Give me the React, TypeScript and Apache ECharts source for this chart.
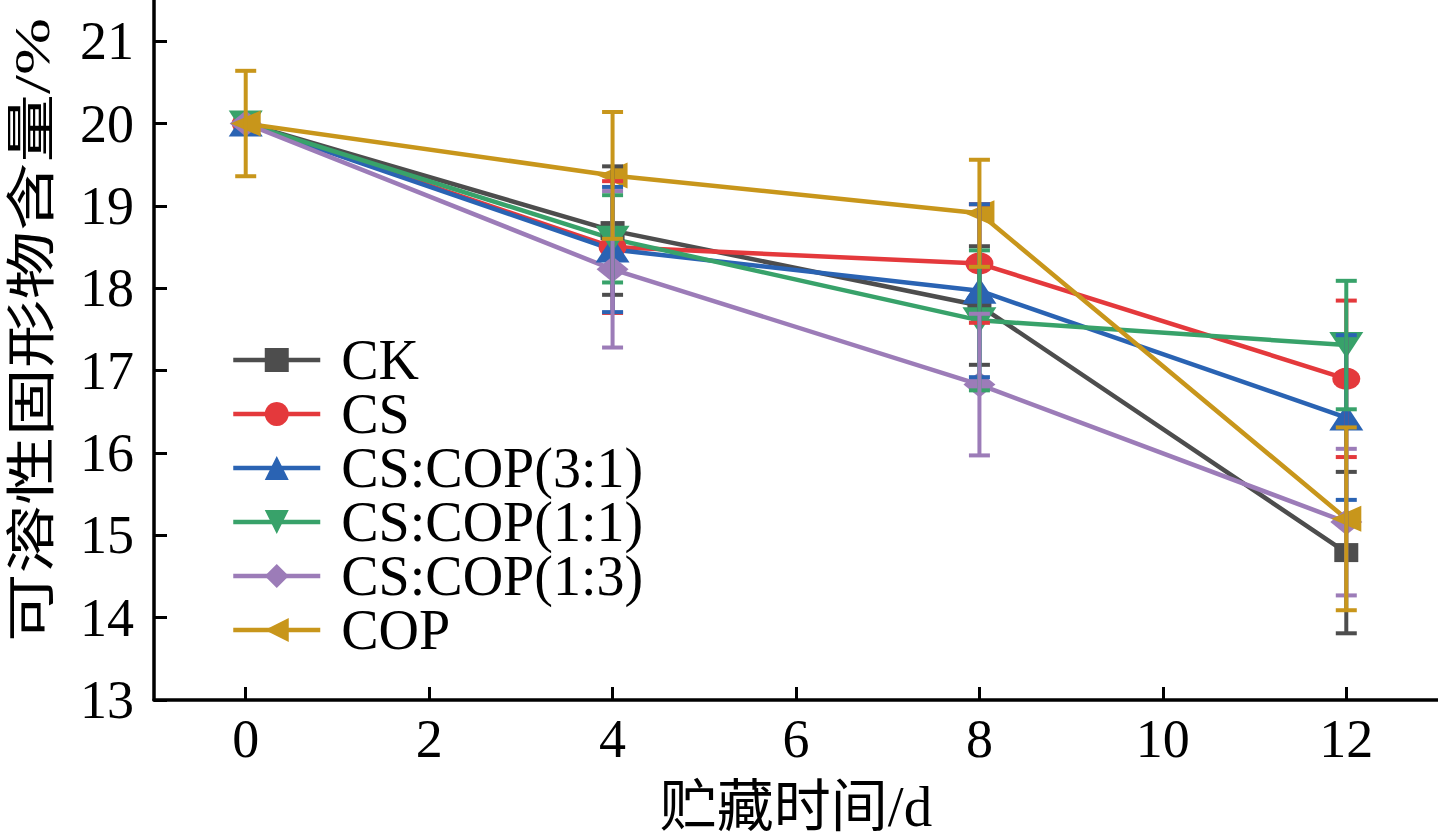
import React, { useEffect, useRef } from 'react';
import * as echarts from 'echarts';

const days = [0, 4, 8, 12];
const seriesNames = ['CK', 'CS', 'CS:COP(3:1)', 'CS:COP(1:1)', 'CS:COP(1:3)', 'COP'];

const ckValues = [20.0, 18.7, 17.79, 14.79];
const csValues = [20.0, 18.5, 18.3, 16.9];
const cop31Values = [20.0, 18.47, 17.97, 16.43];
const cop11Values = [20.0, 18.6, 17.61, 17.31];
const cop13Values = [20.0, 18.23, 16.83, 15.16];
const copValues = [20.0, 19.37, 18.91, 15.2];

const ckErr = [0, 0.78, 0.72, 0.98];
const csErr = [0, 0.8, 0.72, 0.95];
const cop31Err = [0, 0.76, 1.05, 1.0];
const cop11Err = [0, 0.53, 0.85, 0.78];
const cop13Err = [0, 0.95, 0.86, 0.89];
const copErr = [0.64, 0.77, 0.65, 1.11];

const xTicks = [0, 2, 4, 6, 8, 10, 12];
const yTicks = [13, 14, 15, 16, 17, 18, 19, 20, 21];

const colors = ['#4d4d4d', '#e4393c', '#2a63b3', '#38a26a', '#9c7cb8', '#c8961b'];
const symbols = ['rect', 'circle', 'triangle', 'triangle', 'diamond', 'triangle'];
const symbolSizes: [number, number][] = [
  [24, 19],
  [28, 22],
  [34, 26],
  [34, 26],
  [32, 26],
  [26, 30],
];
const symbolRotates = [0, 0, 0, 180, 0, 90];

const allValues = [ckValues, csValues, cop31Values, cop11Values, cop13Values, copValues];
const allErr = [ckErr, csErr, cop31Err, cop11Err, cop13Err, copErr];

const FONT = '"Liberation Serif", "Noto Sans CJK SC", serif';

const App: React.FC = () => {
  const chartRef = useRef<HTMLDivElement>(null);

  useEffect(() => {
    if (!chartRef.current) return;
    const chart = echarts.init(chartRef.current, undefined, { renderer: 'svg' });

    const series: any[] = [];
    seriesNames.forEach((name, i) => {
      const color = colors[i];
      series.push({
        name,
        type: 'line',
        data: days.map((d, j) => [d, allValues[i][j]]),
        symbol: symbols[i],
        symbolSize: symbolSizes[i],
        symbolRotate: symbolRotates[i],
        lineStyle: { color, width: 4.5 },
        itemStyle: { color },
        z: 2,
      });
      // 误差棒
      series.push({
        name: name + '-err',
        type: 'custom',
        data: days
          .map((d, j) => [d, allValues[i][j] - allErr[i][j], allValues[i][j] + allErr[i][j], allErr[i][j]])
          .filter(v => v[3] > 0),
        encode: { x: 0, y: [1, 2] },
        z: 3,
        silent: true,
        renderItem: (params: any, api: any) => {
          const x = api.value(0);
          const lo = api.coord([x, api.value(1)]);
          const hi = api.coord([x, api.value(2)]);
          const hw = 10.5;
          const style = { stroke: color, lineWidth: 4 };
          return {
            type: 'group',
            children: [
              { type: 'line', shape: { x1: lo[0], y1: lo[1], x2: hi[0], y2: hi[1] }, style },
              { type: 'line', shape: { x1: hi[0] - hw, y1: hi[1], x2: hi[0] + hw, y2: hi[1] }, style },
              { type: 'line', shape: { x1: lo[0] - hw, y1: lo[1], x2: lo[0] + hw, y2: lo[1] }, style },
            ],
          };
        },
      });
    });

    const option = {
      animation: false,
      backgroundColor: '#fff',
      textStyle: { fontFamily: FONT },
      grid: {
        left: 154,
        right: 0,
        top: 0,
        bottom: 138,
        containLabel: false,
        outerBoundsMode: 'none',
      },
      graphic: [
        {
          type: 'text',
          x: 32,
          y: 330,
          rotation: Math.PI / 2,
          scaleX: 1.37,
          style: {
            text: '可溶性固形物含量/%',
            fontFamily: FONT,
            fontSize: 50,
            fill: '#000',
            align: 'center',
            verticalAlign: 'middle',
          },
        },
      ],
      legend: {
        data: seriesNames,
        orient: 'vertical',
        left: 226,
        top: 327,
        itemWidth: 87,
        itemHeight: 30,
        itemGap: -2,
        lineStyle: { width: 4.5 },
        textStyle: {
          fontFamily: FONT,
          fontSize: 56,
          color: '#000',
          lineHeight: 54,
          padding: [0, 0, 0, 16],
        },
      },
      xAxis: {
        type: 'value',
        min: -1,
        max: 13,
        name: '贮藏时间/d',
        nameLocation: 'middle',
        nameGap: 78,
        nameTextStyle: { fontFamily: FONT, fontSize: 57, color: '#000' },
        axisLine: { onZero: false, lineStyle: { color: '#000', width: 3.5 } },
        axisTick: {
          inside: true,
          length: 13,
          lineStyle: { color: '#000', width: 3 },
          customValues: xTicks,
        },
        axisLabel: {
          fontFamily: FONT,
          fontSize: 54,
          color: '#000',
          margin: 12,
          customValues: xTicks,
        },
        splitLine: { show: false },
      },
      yAxis: {
        type: 'value',
        min: 13,
        max: 21.5,
        axisLine: { onZero: false, lineStyle: { color: '#000', width: 3.5 } },
        axisTick: {
          inside: true,
          length: 13,
          lineStyle: { color: '#000', width: 3 },
          customValues: yTicks,
        },
        axisLabel: {
          fontFamily: FONT,
          fontSize: 54,
          color: '#000',
          margin: 20,
          customValues: yTicks,
        },
        splitLine: { show: false },
      },
      series,
    };

    chart.setOption(option);

    return () => {
      chart.dispose();
    };
  }, []);

  return (
    <div
      ref={chartRef}
      style={{ position: 'fixed', left: 0, top: 0, width: '1438px', height: '838px' }}
    />
  );
};

export default App;
